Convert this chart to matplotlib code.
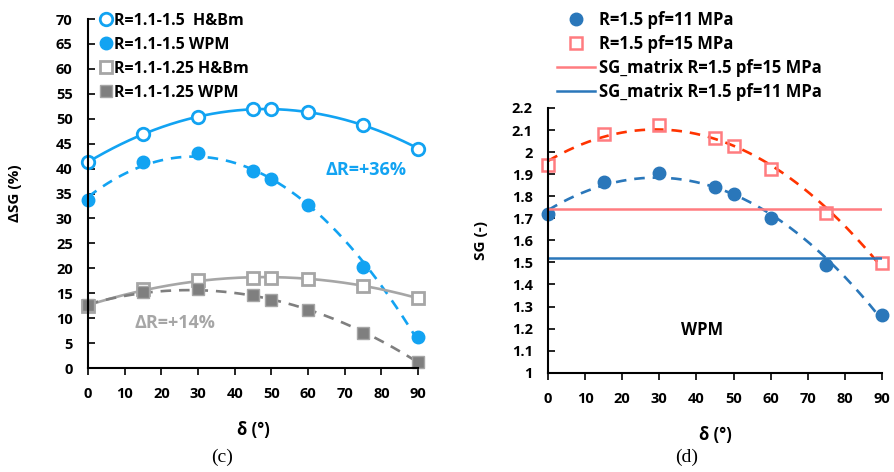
import numpy as np
import matplotlib.pyplot as plt

plt.rcParams['font.family'] = ['Open Sans', 'DejaVu Sans']
plt.rcParams['font.weight'] = 'bold'
plt.rcParams['axes.labelweight'] = 'bold'

delta = [0, 15, 30, 45, 50, 60, 75, 90]

# panel (c): delta SG (%)
hb_15 = [41.3, 46.9, 50.4, 51.9, 51.9, 51.3, 48.8, 44.0]
wpm_15 = [33.6, 41.3, 43.1, 39.5, 37.9, 32.6, 20.3, 6.2]
hb_125 = [12.4, 15.8, 17.6, 18.1, 18.1, 17.9, 16.4, 14.1]
wpm_125 = [12.6, 15.2, 15.8, 14.6, 13.6, 11.6, 7.1, 1.3]

# panel (d): SG (-)
sg_11 = [1.72, 1.863, 1.905, 1.843, 1.809, 1.703, 1.49, 1.262]
sg_15 = [1.943, 2.083, 2.124, 2.062, 2.029, 1.923, 1.723, 1.497]
sg_matrix_15 = 1.741
sg_matrix_11 = 1.519

c_lblue = '#12A3F2'
c_lgray = '#A6A6A6'
c_dgray = '#7F7F7F'
c_blue = '#2A77BA'
c_pink = '#FF7C80'
c_red = '#FF3300'

fig = plt.figure(figsize=(8.94, 4.72), dpi=100)
ax1 = fig.add_axes([0.0984, 0.2203, 0.3692, 0.7394])
ax2 = fig.add_axes([0.613, 0.2104, 0.3736, 0.5608])

xs = np.linspace(0, 90, 200)


def trend(ax, y, color, ls):
    p = np.polyfit(delta, y, 2)
    ax.plot(xs, np.polyval(p, xs), color=color, ls=ls, lw=1.9,
            dashes=(4, 3) if ls == '--' else (None, None))


# ---- (c)
trend(ax1, hb_15, c_lblue, '-')
trend(ax1, wpm_15, c_lblue, '--')
trend(ax1, hb_125, c_lgray, '-')
trend(ax1, wpm_125, c_dgray, '--')
ax1.plot(delta, hb_15, 'o', ms=9, mfc='white', mec=c_lblue, mew=2,
         label='R=1.1-1.5  H&Bm', clip_on=False)
ax1.plot(delta, wpm_15, 'o', ms=9, color=c_lblue, label='R=1.1-1.5 WPM',
         clip_on=False)
ax1.plot(delta, hb_125, 's', ms=9, mfc='white', mec=c_lgray, mew=2,
         label='R=1.1-1.25 H&Bm', clip_on=False)
ax1.plot(delta, wpm_125, 's', ms=9, color=c_dgray, mec=c_lgray, mew=1,
         label='R=1.1-1.25 WPM', clip_on=False)

ax1.set_xlim(0, 90)
ax1.set_ylim(0, 70)
ax1.set_xticks(range(0, 91, 10))
ax1.set_yticks(range(0, 71, 5))
ax1.text(75.8, 39.7, 'ΔR=+36%', color=c_lblue, fontsize=13, ha='center',
         va='center')
ax1.text(23.7, 9.0, 'ΔR=+14%', color=c_lgray, fontsize=13, ha='center',
         va='center')
ax1.set_ylabel('ΔSG (%)', fontsize=11)
ax1.yaxis.set_label_coords(-0.2, 0.5)
ax1.set_xlabel('δ (°)', fontsize=12, labelpad=14)
ax1.legend(loc='upper left', bbox_to_anchor=(0.113, 0.973),
           bbox_transform=fig.transFigure, frameon=False,
           fontsize=11.5, handlelength=0.6, handletextpad=0.2,
           labelspacing=0.5, borderaxespad=0, borderpad=0)

# ---- (d)
trend(ax2, sg_15, c_red, '--')
trend(ax2, sg_11, c_blue, '--')
ax2.plot(delta, sg_11, 'o', ms=9, color=c_blue, label='R=1.5 pf=11 MPa',
         clip_on=False)
ax2.plot(delta, sg_15, 's', ms=9, mfc='none', mec=c_pink, mew=1.8,
         label='R=1.5 pf=15 MPa', clip_on=False)
ax2.axhline(sg_matrix_15, color=c_pink, lw=1.8,
            label='SG_matrix R=1.5 pf=15 MPa')
ax2.axhline(sg_matrix_11, color=c_blue, lw=1.8,
            label='SG_matrix R=1.5 pf=11 MPa')
ax2.set_xlim(0, 90)
ax2.set_ylim(1, 2.2)
ax2.set_xticks(range(0, 91, 10))
ax2.set_yticks(np.arange(1, 2.21, 0.1))
ax2.set_yticklabels(['1', '1.1', '1.2', '1.3', '1.4', '1.5', '1.6', '1.7',
                     '1.8', '1.9', '2', '2.1', '2.2'])
ax2.text(41.5, 1.194, 'WPM', fontsize=12, ha='center', va='center')
ax2.set_ylabel('SG (-)', fontsize=11)
ax2.yaxis.set_label_coords(-0.18, 0.5)
ax2.set_xlabel('δ (°)', fontsize=12, labelpad=14)
ax2.legend(loc='upper left', bbox_to_anchor=(0.623, 0.977),
           bbox_transform=fig.transFigure, frameon=False,
           fontsize=12, handlelength=2.3, handletextpad=0.25,
           labelspacing=0.36, borderaxespad=0, borderpad=0)

for ax in (ax1, ax2):
    ax.spines['top'].set_visible(False)
    ax.spines['right'].set_visible(False)
    ax.spines['left'].set_linewidth(1.5)
    ax.spines['bottom'].set_linewidth(1.5)
    ax.tick_params(axis='y', direction='in', length=5, width=1.2,
                   labelsize=10.5, pad=11)
    ax.tick_params(axis='x', direction='out', length=5, width=1.2,
                   labelsize=10.5, pad=9)
    for lbl in ax.get_xticklabels() + ax.get_yticklabels():
        lbl.set_fontweight('bold')

fig.text(0.248, 0.03, '(c)', fontsize=14, ha='center', va='center',
         family='Liberation Serif', fontweight='normal')
fig.text(0.768, 0.03, '(d)', fontsize=14, ha='center', va='center',
         family='Liberation Serif', fontweight='normal')

fig.savefig('out.png', dpi=100)
